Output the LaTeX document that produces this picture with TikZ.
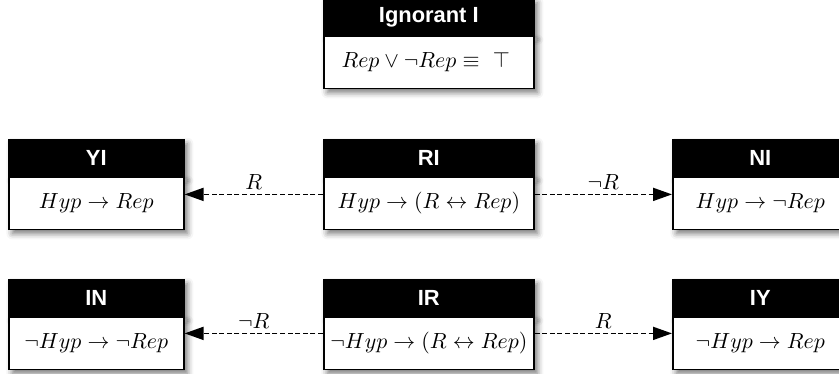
\documentclass[tikz,border=0pt,11pt]{standalone}
\usepackage{fontspec}
\newfontfamily\hdrfont{Liberation Sans}
\usetikzlibrary{arrows.meta,shadows.blur}
\tikzset{
  boxshadow/.style={blur shadow={shadow xshift=1.8pt, shadow yshift=-2pt, shadow blur radius=3pt, shadow opacity=55}},
  hdr/.style={draw=black, fill=black, text=white, font=\hdrfont\bfseries, line width=0.8pt,
    minimum height=18pt, inner sep=0pt, anchor=north west, boxshadow},
  bodybox/.style={draw=black, fill=white, line width=0.8pt, minimum height=26pt, inner sep=0pt,
    anchor=north, boxshadow},
  side/.style={minimum width=87.5pt},
  mid/.style={minimum width=105pt},
  conn/.style={line width=0.9pt, dash pattern=on 2.5pt off 1.3pt, -{Triangle[length=9.5pt,width=6.5pt]}},
  lbl/.style={above, inner sep=1.8pt, midway}
}
\begin{document}
\begin{tikzpicture}[x=0.5pt,y=-0.5pt]
\useasboundingbox (0,0) rectangle (839,374);
% top
\node[hdr, mid] (igH) at (323,-2) {Ignorant I};
\node[bodybox, mid] (igB) at (igH.south) {$Rep \vee \neg Rep \equiv\ \top\;$};
% row 1
\node[hdr, side] (yiH) at (8,139) {YI};
\node[bodybox, side] (yiB) at (yiH.south) {$Hyp \to Rep$};
\node[hdr, mid] (riH) at (323,139) {RI};
\node[bodybox, mid] (riB) at (riH.south) {$Hyp \to (R \leftrightarrow Rep)$};
\node[hdr, side] (niH) at (672,139) {NI};
\node[bodybox, side] (niB) at (niH.south) {$Hyp \to \neg Rep$};
% row 2
\node[hdr, side] (inH) at (8,279) {IN};
\node[bodybox, side] (inB) at (inH.south) {$\neg Hyp \to \neg Rep$};
\node[hdr, mid] (irH) at (323,279) {IR};
\node[bodybox, mid] (irB) at (irH.south) {$\neg Hyp \to (R \leftrightarrow Rep)$};
\node[hdr, side] (iyH) at (672,279) {IY};
\node[bodybox, side] (iyB) at (iyH.south) {$\neg Hyp \to Rep$};
% connectors
\draw[conn] ([yshift=4.5pt]riB.west) -- node[lbl] {$R$} ([yshift=4.5pt]yiB.east);
\draw[conn] ([yshift=4.5pt]riB.east) -- node[lbl] {$\neg R$} ([yshift=4.5pt]niB.west);
\draw[conn] ([yshift=5pt]irB.west) -- node[lbl] {$\neg R$} ([yshift=5pt]inB.east);
\draw[conn] ([yshift=5pt]irB.east) -- node[lbl] {$R$} ([yshift=5pt]iyB.west);
\end{tikzpicture}
\end{document}
